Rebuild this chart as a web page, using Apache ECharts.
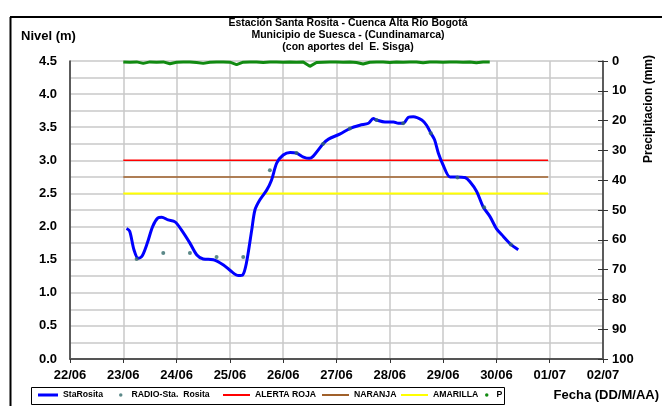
<!DOCTYPE html>
<html>
<head>
<meta charset="utf-8">
<script src="https://cdn.jsdelivr.net/npm/echarts@6/dist/echarts.min.js"></script>
<style>
html, body { margin: 0; padding: 0; background: #fff; }
#chart { width: 662px; height: 406px; }
</style>
</head>
<body>
<div id="chart"></div>
<script>
// etiquetas del eje X (dias desde 22/06)
var fechas = ['22/06', '23/06', '24/06', '25/06', '26/06', '27/06', '28/06', '29/06', '30/06', '01/07', '02/07'];

// nivel StaRosita: tiempo (dias desde 22/06) y nivel (m)
var staX = [1.06, 1.12, 1.20, 1.28, 1.35, 1.45, 1.55, 1.65, 1.72, 1.84, 1.97, 2.09, 2.25, 2.38, 2.50, 2.69, 2.88, 3.03, 3.16, 3.24,
            3.31, 3.41, 3.47, 3.56, 3.69, 3.78, 3.88, 4.00, 4.13, 4.25, 4.38, 4.49, 4.56, 4.75, 4.85, 5.07, 5.25, 5.44, 5.60, 5.69,
            5.75, 5.91, 6.07, 6.16, 6.25, 6.35, 6.44, 6.60, 6.69, 6.77, 6.84, 6.91, 7.00, 7.13, 7.25, 7.41, 7.50, 7.63, 7.75, 7.88,
            8.00, 8.13, 8.27, 8.41];
var staY = [1.97, 1.93, 1.65, 1.52, 1.55, 1.75, 2.00, 2.13, 2.14, 2.10, 2.07, 1.95, 1.75, 1.57, 1.51, 1.50, 1.42, 1.32, 1.26, 1.27,
            1.45, 1.95, 2.25, 2.40, 2.55, 2.70, 2.96, 3.08, 3.12, 3.11, 3.05, 3.03, 3.06, 3.25, 3.32, 3.40, 3.48, 3.53, 3.56, 3.63,
            3.61, 3.58, 3.58, 3.56, 3.56, 3.65, 3.66, 3.61, 3.53, 3.41, 3.31, 3.11, 2.93, 2.75, 2.75, 2.74, 2.68, 2.53, 2.30, 2.15,
            1.97, 1.85, 1.73, 1.65];

// lecturas RADIO-Sta. Rosita
var radioX = [1.25, 1.75, 2.25, 2.75, 3.25, 3.75, 4.25, 4.75, 5.25, 5.75, 6.25, 6.77, 7.27, 7.77, 8.27];
var radioY = [1.51, 1.60, 1.60, 1.54, 1.54, 2.85, 3.11, 3.25, 3.48, 3.61, 3.56, 3.41, 2.74, 2.29, 1.73];

// umbrales de alerta (m)
var alertaRoja = 3.0;
var naranja = 2.75;
var amarilla = 2.5;
var umbralDesde = 1.0;
var umbralHasta = 8.97;

// precipitacion (mm) cada 3 horas desde 23/06
var precipInicio = 1.0;
var precipPaso = 0.125;
var precip = [0.3, 0.4, 0.3, 0.8, 0.3, 0.4, 0.3, 0.9, 0.4, 0.3, 0.3, 0.5, 0.8, 0.4, 0.3, 0.3,
              0.4, 1.2, 0.4, 0.3, 0.3, 0.5, 0.3, 0.3, 0.4, 0.3, 0.4, 0.3, 1.8, 0.5, 0.4, 0.3,
              0.3, 0.4, 0.3, 0.5, 1.0, 0.4, 0.3, 0.3, 0.5, 0.3, 0.4, 0.3, 0.3, 0.6, 0.3, 0.3,
              0.4, 0.3, 0.3, 0.4, 0.3, 0.6, 0.3, 0.3];

function pares(xs, ys) {
	var out = [];
	for (var i = 0; i < xs.length; i++) out.push([xs[i], ys[i]]);
	return out;
}

var precipData = [];
for (var i = 0; i < precip.length; i++) {
	precipData.push([precipInicio + i * precipPaso, precip[i]]);
}

var FONT = 'Liberation Sans, Arial, sans-serif';
var gris = '#c8c8c8';
var ejeColor = '#333';

// una leyenda por elemento para poder colocarlos como en el original
function leyenda(nombre, x, ancho, alto, icono, extra) {
	return {
		left: x, top: 390.5, padding: 0,
		itemWidth: ancho, itemHeight: alto,
		icon: icono,
		selectedMode: false,
		textStyle: { fontFamily: FONT, fontSize: 8.7, fontWeight: 'bold', color: '#000', padding: [0, 0, 0, extra || 0] },
		data: [nombre]
	};
}

var myChart = echarts.init(document.getElementById('chart'));
var option = {
	animation: false,
	backgroundColor: '#fff',
	textStyle: { fontFamily: FONT },
	grid: { left: 70, right: 59, top: 61, bottom: 47, containLabel: false },
	legend: [
		leyenda('StaRosita', 38, 20, 3, 'rect'),
		leyenda('RADIO-Sta.  Rosita', 119, 3.5, 3.5, 'circle', 4),
		leyenda('ALERTA ROJA', 223, 27, 2, 'rect'),
		leyenda('NARANJA', 322, 27, 2, 'rect'),
		leyenda('AMARILLA', 401, 27, 2, 'rect'),
		leyenda('P', 485, 3.5, 3.5, 'circle', 3)
	],
	xAxis: {
		type: 'value', min: 0, max: 10, interval: 1,
		axisLine: { show: true, onZero: false, lineStyle: { color: '#555', width: 2 } },
		axisTick: { show: true, length: 4, lineStyle: { color: ejeColor, width: 1 } },
		axisLabel: {
			margin: 10, color: '#000', fontSize: 13, fontWeight: 'bold', fontFamily: FONT,
			formatter: function (v) { return fechas[Math.round(v)]; }
		},
		splitLine: { show: true, lineStyle: { color: gris, width: 1.5 } }
	},
	yAxis: [
		{
			type: 'value', min: 0, max: 4.5, interval: 0.25,
			axisLine: { show: true, lineStyle: { color: ejeColor, width: 1.5 } },
			axisTick: { show: false },
			axisLabel: {
				margin: 13, color: '#000', fontSize: 13, fontWeight: 'bold', fontFamily: FONT,
				formatter: function (v) { return (Math.round(v * 100) % 50 === 0) ? v.toFixed(1) : ''; }
			},
			splitLine: { show: true, lineStyle: { color: gris, width: 1.5 } }
		},
		{
			type: 'value', min: 0, max: 100, interval: 10, inverse: true, position: 'right',
			axisLine: { show: true, lineStyle: { color: ejeColor, width: 1.5 } },
			axisTick: { show: true, length: 5, lineStyle: { color: ejeColor } },
			axisLabel: { margin: 9, color: '#000', fontSize: 13, fontWeight: 'bold', fontFamily: FONT },
			splitLine: { show: false }
		},
		{
			// marcas interiores del eje derecho (cruzan el eje)
			type: 'value', min: 0, max: 100, interval: 10, inverse: true, position: 'right',
			axisLine: { show: false },
			axisTick: { show: true, inside: true, length: 5, lineStyle: { color: ejeColor } },
			axisLabel: { show: false },
			splitLine: { show: false }
		}
	],
	graphic: [
		// marco exterior
		{ type: 'line', shape: { x1: 10.5, y1: 17, x2: 10.5, y2: 406 }, style: { stroke: '#000', lineWidth: 2 } },
		{ type: 'line', shape: { x1: 10, y1: 17, x2: 662, y2: 17 }, style: { stroke: '#000', lineWidth: 2 } },
		// caja de la leyenda
		{ type: 'rect', shape: { x: 31.5, y: 387.5, width: 473, height: 17 }, style: { fill: 'none', stroke: '#000', lineWidth: 1 }, z: -1 },
		{ type: 'text', x: 21, y: 30, style: { text: 'Nivel (m)', font: 'bold 13px ' + FONT, fill: '#000' } },
		{ type: 'text', x: 348, y: 18, style: { text: 'Estación Santa Rosita - Cuenca Alta Río Bogotá', font: 'bold 10.5px ' + FONT, fill: '#000', align: 'center' } },
		{ type: 'text', x: 348, y: 30, style: { text: 'Municipio de Suesca - (Cundinamarca)', font: 'bold 10.5px ' + FONT, fill: '#000', align: 'center' } },
		{ type: 'text', x: 348, y: 41.5, style: { text: '(con aportes del  E. Sisga)', font: 'bold 10.5px ' + FONT, fill: '#000', align: 'center' } },
		{ type: 'text', x: 649, y: 109, rotation: Math.PI / 2, style: { text: 'Precipitacion (mm)', font: 'bold 12px ' + FONT, fill: '#000', align: 'center', verticalAlign: 'middle' } },
		{ type: 'text', x: 659, y: 389, style: { text: 'Fecha (DD/M/AA)', font: 'bold 13px ' + FONT, fill: '#000', align: 'right' } }
	],
	series: [
		{
			name: 'StaRosita', type: 'line', yAxisIndex: 0,
			data: pares(staX, staY), smooth: 0.3, symbol: 'none',
			lineStyle: { color: '#0000ff', width: 3 }, itemStyle: { color: '#0000ff' }, z: 5
		},
		{
			name: 'RADIO-Sta.  Rosita', type: 'scatter', yAxisIndex: 0,
			data: pares(radioX, radioY), symbolSize: 4,
			itemStyle: { color: '#336b6b' }, z: 6
		},
		{
			name: 'ALERTA ROJA', type: 'line', yAxisIndex: 0, symbol: 'none',
			data: [[umbralDesde, alertaRoja], [umbralHasta, alertaRoja]],
			lineStyle: { color: '#ff0000', width: 1.5 }, itemStyle: { color: '#ff0000' }, z: 3
		},
		{
			name: 'NARANJA', type: 'line', yAxisIndex: 0, symbol: 'none',
			data: [[umbralDesde, naranja], [umbralHasta, naranja]],
			lineStyle: { color: '#a0602a', width: 1.5 }, itemStyle: { color: '#a0602a' }, z: 3
		},
		{
			name: 'AMARILLA', type: 'line', yAxisIndex: 0, symbol: 'none',
			data: [[umbralDesde, amarilla], [umbralHasta, amarilla]],
			lineStyle: { color: '#ffff00', width: 2 }, itemStyle: { color: '#ffff00' }, z: 3
		},
		{
			name: 'P', type: 'line', yAxisIndex: 1, symbol: 'none',
			data: precipData,
			lineStyle: { color: '#118a11', width: 3 }, itemStyle: { color: '#118a11' }, z: 4
		}
	]
};

myChart.setOption(option);
</script>
</body>
</html>
